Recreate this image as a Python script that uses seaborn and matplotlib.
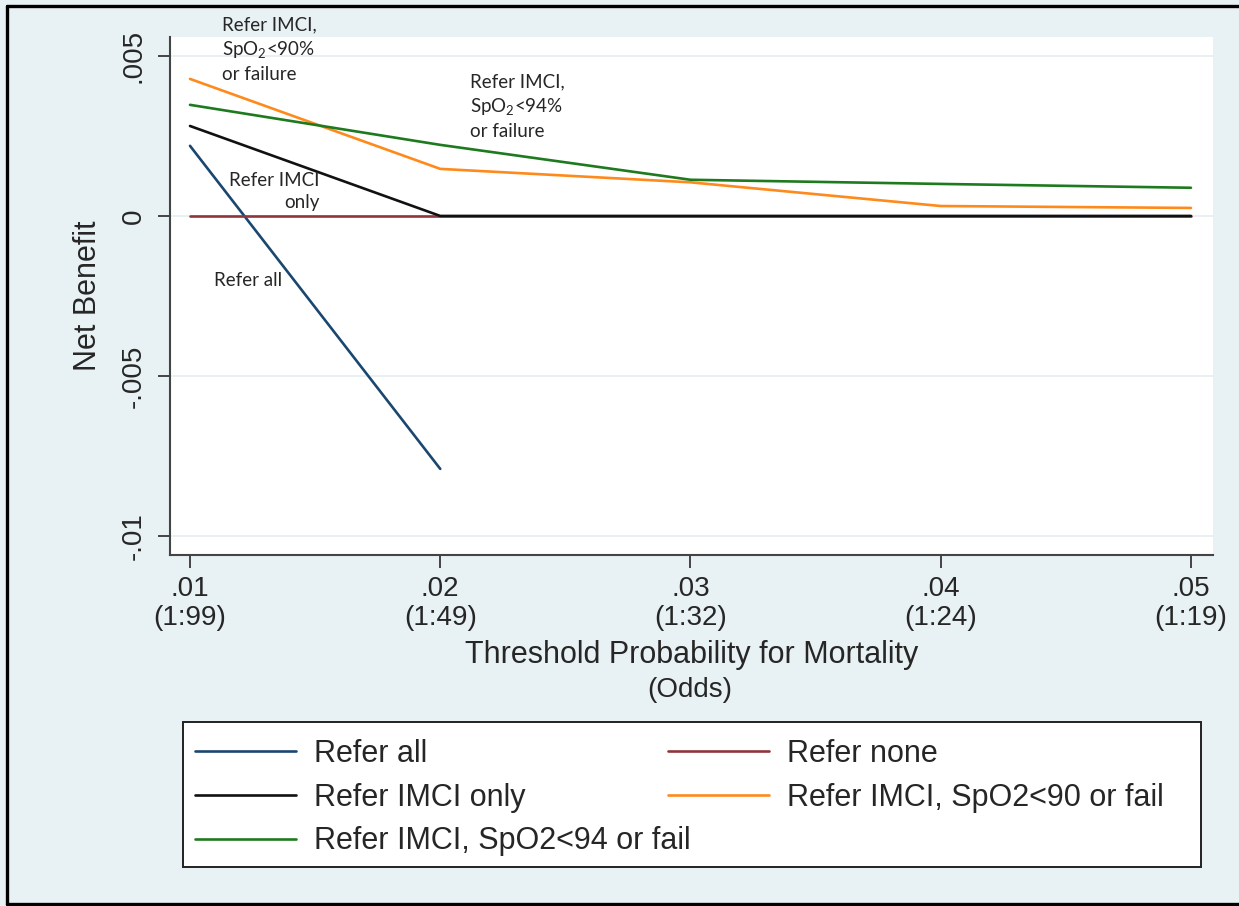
import matplotlib
matplotlib.use("Agg")
import matplotlib.pyplot as plt
from matplotlib.lines import Line2D
from matplotlib.patches import Rectangle
import seaborn as sns
import pandas as pd

# threshold probabilities and their odds
thresholds = [0.01, 0.02, 0.03, 0.04, 0.05]
odds_labels = ["(1:99)", "(1:49)", "(1:32)", "(1:24)", "(1:19)"]

# net benefit per strategy
refer_all = [0.00219, -0.00790]          # only drawn for .01 and .02
refer_none = [0.0, 0.0, 0.0, 0.0, 0.0]
refer_imci_only = [0.00281, 0.0, 0.0, 0.0, 0.0]
refer_spo2_90 = [0.00428, 0.00147, 0.00105, 0.00031, 0.00025]
refer_spo2_94 = [0.00347, 0.00222, 0.00113, 0.00100, 0.00088]

names = ["Refer all", "Refer none", "Refer IMCI only",
         "Refer IMCI, SpO2<90 or fail", "Refer IMCI, SpO2<94 or fail"]
colors = ["#1a476f", "#90353b", "#111111", "#ff8a1c", "#1e7a1e"]

yticks = [0.005, 0.0, -0.005, -0.01]
ytick_labels = [".005", "0", "-.005", "-.01"]

rows = []
for name, vals in zip(names, [refer_all, refer_none, refer_imci_only,
                              refer_spo2_90, refer_spo2_94]):
    for x, y in zip(thresholds, vals):
        rows.append({"threshold": x, "net_benefit": y, "strategy": name})
df = pd.DataFrame(rows)

sns.set_style("white")
plt.rcParams["font.family"] = ["Liberation Sans", "DejaVu Sans"]
plt.rcParams["mathtext.fontset"] = "custom"
plt.rcParams["mathtext.rm"] = "Lato"

W, H = 1239, 906
bg = "#e8f1f3"
fig = plt.figure(figsize=(W / 100, H / 100), dpi=100, facecolor=bg)
ax = fig.add_axes([0.1372, 0.3874, 0.8418, 0.5718])
ax.set_facecolor("white")

sns.lineplot(data=df, x="threshold", y="net_benefit", hue="strategy",
             hue_order=names, palette=dict(zip(names, colors)),
             sort=False, linewidth=1.9, legend=False, ax=ax)

ax.set_xlim(0.0092, 0.05088)
ax.set_ylim(-0.01059, 0.00559)

ax.set_xticks(thresholds)
ax.set_xticklabels([f".{int(round(t * 100)):02d}\n{o}" for t, o in zip(thresholds, odds_labels)],
                   fontsize=20, linespacing=1.15, multialignment="center")
ax.set_yticks(yticks)
ax.set_yticklabels(ytick_labels, fontsize=20, rotation=90, va="center")
ax.tick_params(axis="both", direction="out", length=9, width=1.4,
               color="#444444", left=True, bottom=True)
ax.tick_params(axis="x", pad=6)
ax.tick_params(axis="y", pad=8)

ax.grid(axis="y", color="#e3edf0", linewidth=1.2)
ax.grid(axis="x", visible=False)
for side in ["top", "right"]:
    ax.spines[side].set_visible(False)
for side in ["left", "bottom"]:
    ax.spines[side].set_color("#444444")
    ax.spines[side].set_linewidth(1.5)

ax.set_ylabel("Net Benefit", fontsize=22)
ax.yaxis.set_label_coords(-0.064, 0.5)
ax.set_xlabel("Threshold Probability for Mortality", fontsize=22)
ax.xaxis.set_label_coords(0.5, -0.165)
fig.text(690 / W, 1 - 677 / H, "(Odds)", fontsize=20, ha="center", va="top")

# in-plot labels
ann_kw = dict(fontsize=13.5, family=["Lato", "DejaVu Sans"], va="top", linespacing=1.35)
ax.text(0.01128, 0.00622, "Refer IMCI,\nSpO$_2$<90%\nor failure", **ann_kw)
ax.text(0.0212, 0.00444, "Refer IMCI,\nSpO$_2$<94%\nor failure", **ann_kw)
ax.text(0.01156, 0.00136, "Refer IMCI\nonly", multialignment="right", **ann_kw)
ax.text(0.01096, -0.00176, "Refer all", **ann_kw)

# legend: white box with two columns placed separately
fig.add_artist(Rectangle((183 / W, 1 - 867 / H), (1201 - 183) / W, (867 - 722) / H,
                         transform=fig.transFigure, facecolor="white",
                         edgecolor="#222222", linewidth=1.4, zorder=1))
leg_kw = dict(loc="upper left", fontsize=22, handlelength=3.3, handletextpad=0.6,
              labelspacing=0.45, borderpad=0, borderaxespad=0, frameon=False)
col1 = [0, 2, 4]
col2 = [1, 3]
for idx, x0 in [(col1, 195), (col2, 668)]:
    hs = [Line2D([], [], color=colors[i], linewidth=1.9) for i in idx]
    leg = fig.legend(hs, [names[i] for i in idx],
                     bbox_to_anchor=(x0 / W, 1 - 739 / H), **leg_kw)
    leg.set_zorder(2)

# outer frame
for xs, ys in [([0.0056, 0.0056], [0.0022, 0.9934]),
               ([0.0056, 1.0], [0.9934, 0.9934]),
               ([0.0056, 1.0], [0.0022, 0.0022])]:
    fig.add_artist(Line2D(xs, ys, color="black", linewidth=2.4, transform=fig.transFigure))

fig.savefig("out.png", dpi=100, facecolor=bg)
